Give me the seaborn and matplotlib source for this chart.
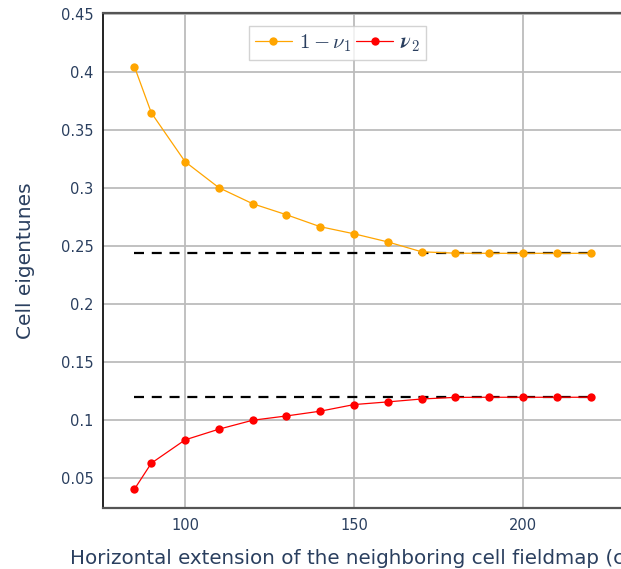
import matplotlib
matplotlib.use("Agg")
import matplotlib.pyplot as plt
import seaborn as sns
import numpy as np

# Horizontal extension of the neighbouring fieldmap
extension = [85, 90, 100, 110, 120, 130, 140, 150, 160, 170, 180, 190, 200, 210, 220]
# 1 - nu_1
one_minus_nu1 = [0.4043, 0.3645, 0.3224, 0.3000, 0.2862, 0.2767, 0.2664, 0.2603,
                 0.2533, 0.2448, 0.2436, 0.2435, 0.2435, 0.2435, 0.2435]
# nu_2
nu2 = [0.0403, 0.0627, 0.0828, 0.0920, 0.0997, 0.1034, 0.1075, 0.1132,
       0.1155, 0.1180, 0.1194, 0.1195, 0.1195, 0.1195, 0.1195]
# limiting values (dashed reference lines)
limits = [0.2434, 0.1196]

xticks = [100, 150, 200]
yticks = [0.05, 0.1, 0.15, 0.2, 0.25, 0.3, 0.35, 0.4, 0.45]
ytick_labels = ["0.05", "0.1", "0.15", "0.2", "0.25", "0.3", "0.35", "0.4", "0.45"]

sns.set_theme(style="white")
plt.rcParams["font.family"] = ["DejaVu Sans"]
plt.rcParams["mathtext.fontset"] = "cm"

text_color = "#2a3f5f"
grid_color = "#bcbcbc"

fig = plt.figure(figsize=(6.21, 5.69), dpi=100)
W, H = 621, 569
left_px, right_px, top_px, bottom_px = 103, 622, 13, 508
ax = fig.add_axes([left_px / W, 1 - bottom_px / H,
                   (right_px - left_px) / W, (bottom_px - top_px) / H])

for lim in limits:
    ax.hlines(lim, min(extension), max(extension), colors="black",
              linestyles=(0, (4.5, 3.5)), linewidth=1.6, zorder=2)

sns.lineplot(x=extension, y=one_minus_nu1, ax=ax, color="#FFA500", marker="o",
             markersize=6, markeredgewidth=0, linewidth=0.9,
             label=r"$1-\nu_1$", zorder=3)
sns.lineplot(x=extension, y=nu2, ax=ax, color="#FF0000", marker="o",
             markersize=6, markeredgewidth=0, linewidth=0.9,
             label=r"$\boldsymbol{\nu}_2$", zorder=3)

ax.set_xlim(75.7, 229.3)
ax.set_ylim(0.0241, 0.4505)
ax.set_xticks(xticks)
ax.set_yticks(yticks)
ax.set_yticklabels(ytick_labels)
ax.grid(True, color=grid_color, linewidth=1.3)
ax.set_axisbelow(True)

ax.spines["left"].set_color("#111111")
ax.spines["left"].set_linewidth(1.3)
ax.spines["top"].set_color("#555555")
ax.spines["top"].set_linewidth(1.6)
ax.spines["bottom"].set_color("#555555")
ax.spines["bottom"].set_linewidth(1.6)
ax.spines["right"].set_visible(False)

ax.tick_params(axis="both", which="major", labelsize=10.5, colors=text_color,
               length=0, pad=7)
for lab in ax.get_xticklabels() + ax.get_yticklabels():
    lab.set_color(text_color)

ax.set_ylabel("Cell eigentunes", fontsize=14.5, color=text_color)
ax.yaxis.set_label_coords(-0.131, 0.5)
ax.set_xlabel("Horizontal extension of the neighboring cell fieldmap (cells)",
              fontsize=14.3, color=text_color)
ax.xaxis.set_label_coords(-0.064, -0.082)
ax.xaxis.label.set_horizontalalignment("left")

leg = ax.legend(loc="upper center", bbox_to_anchor=(0.452, 0.973), ncol=2,
                fontsize=15, frameon=True, fancybox=False, handlelength=1.75,
                handletextpad=0.35, columnspacing=0.25, borderpad=0.3,
                borderaxespad=0)
leg.get_frame().set_edgecolor("#c8c8c8")
leg.get_frame().set_linewidth(1.0)
for t in leg.get_texts():
    t.set_color(text_color)

fig.savefig("out.png", dpi=100)
